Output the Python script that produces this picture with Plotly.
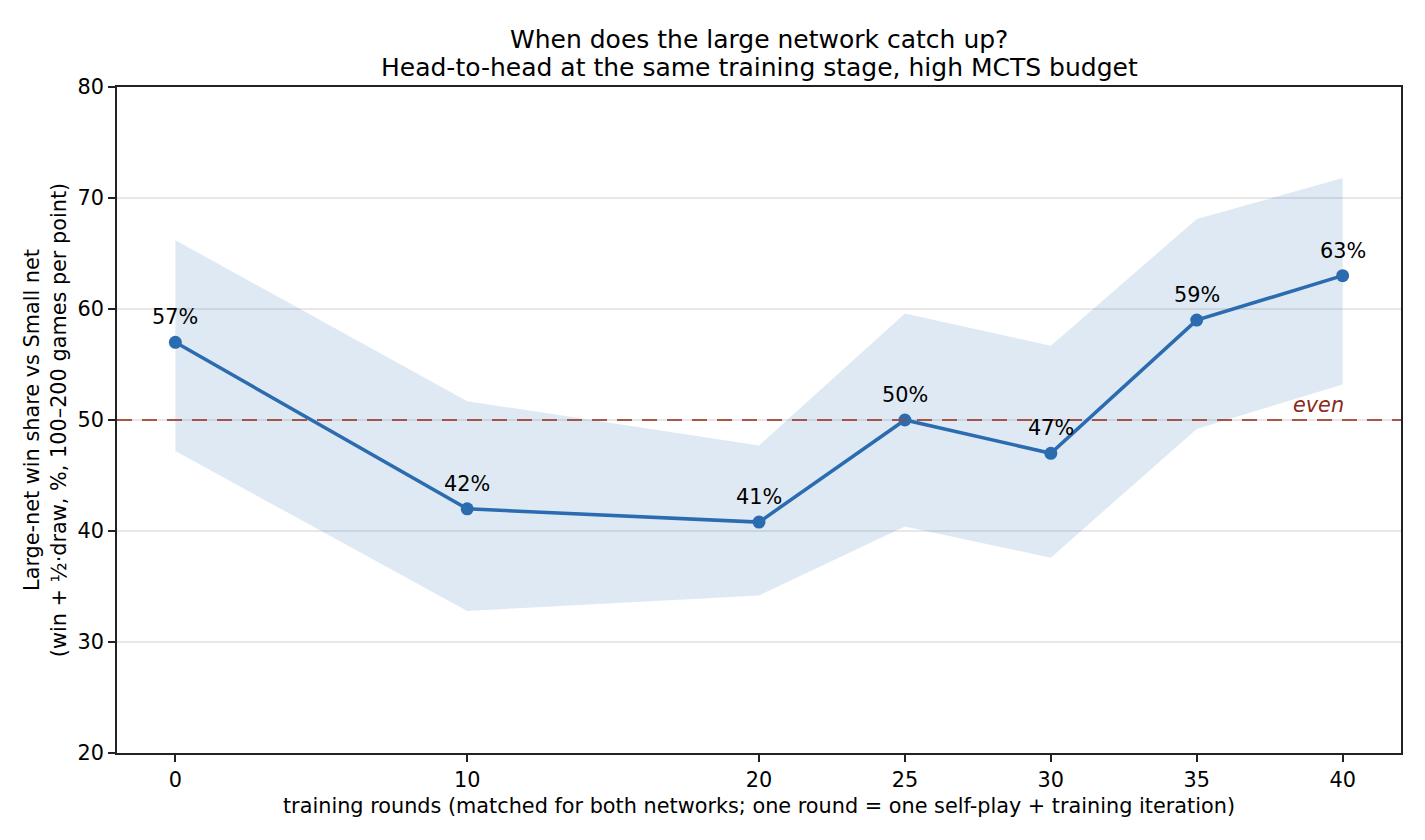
import plotly.graph_objects as go

rounds = [0, 10, 20, 25, 30, 35, 40]
win_share = [57.0, 42.0, 40.8, 50.0, 47.0, 59.0, 63.0]
ci_upper = [66.2, 51.7, 47.7, 59.6, 56.7, 68.1, 71.8]
ci_lower = [47.2, 32.8, 34.2, 40.4, 37.6, 49.2, 53.2]
y_ticks = [20, 30, 40, 50, 60, 70, 80]
title_lines = ["When does the large network catch up?",
               "Head-to-head at the same training stage, high MCTS budget"]

line_color = "#2b6cb0"
font_family = "DejaVu Sans"
fs = 20.8

fig = go.Figure()

# confidence band
fig.add_trace(go.Scatter(
    x=rounds + rounds[::-1],
    y=ci_upper + ci_lower[::-1],
    fill="toself",
    fillcolor="rgba(43,108,176,0.15)",
    line=dict(width=0),
    mode="lines",
    hoverinfo="skip",
    showlegend=False,
))

# even line
fig.add_shape(type="line", xref="paper", x0=0, x1=1, yref="y", y0=50, y1=50,
              line=dict(color="rgba(160,70,55,0.9)", width=2, dash="15px,10px"))

fig.add_trace(go.Scatter(
    x=rounds, y=win_share,
    mode="lines+markers",
    line=dict(color=line_color, width=3.5),
    marker=dict(color=line_color, size=13),
    showlegend=False,
))

for x, v in zip(rounds, win_share):
    fig.add_annotation(x=x, y=v, text=f"{v:.0f}%", showarrow=False,
                       yshift=25, font=dict(family=font_family, size=fs, color="black"))

fig.add_annotation(x=40, y=50, text="<i>even</i>", showarrow=False, xanchor="right",
                   yanchor="bottom", yshift=1, xshift=3,
                   font=dict(family=font_family, size=fs, color="#8b2a1a"))

# two-line title
for line, ypx in zip(title_lines, [39, 67]):
    fig.add_annotation(xref="paper", yref="paper", x=0.5, y=1 + (87 - ypx) / 666,
                       xanchor="center", yanchor="middle", text=line, showarrow=False,
                       font=dict(family=font_family, size=25, color="black"))

fig.update_layout(
    width=1425, height=840,
    margin=dict(l=117, r=24, t=87, b=87),
    plot_bgcolor="white", paper_bgcolor="white",
    font=dict(family=font_family, size=fs, color="black"),
    xaxis=dict(
        range=[-2, 42], tickmode="array", tickvals=rounds, ticktext=[str(r) for r in rounds],
        showgrid=False, zeroline=False,
        showline=True, linecolor="#222", linewidth=1.6, mirror=True,
        ticks="outside", ticklen=7, tickcolor="#222", tickwidth=1.6,
        tickfont=dict(family=font_family, size=fs),
        title=dict(text="training rounds (matched for both networks; one round = one self-play + training iteration)",
                   font=dict(family=font_family, size=fs), standoff=8),
    ),
    yaxis=dict(
        range=[20, 80], tickmode="array", tickvals=y_ticks,
        showgrid=True, gridcolor="rgba(0,0,0,0.09)", gridwidth=1.5, zeroline=False,
        showline=True, linecolor="#222", linewidth=1.6, mirror=True,
        ticks="outside", ticklen=7, tickcolor="#222", tickwidth=1.6,
        tickfont=dict(family=font_family, size=fs),
        title=dict(text="Large-net win share vs Small net<br>(win + ½·draw, %, 100–200 games per point)",
                   font=dict(family=font_family, size=fs), standoff=5),
    ),
)

fig.write_html("out.html")
